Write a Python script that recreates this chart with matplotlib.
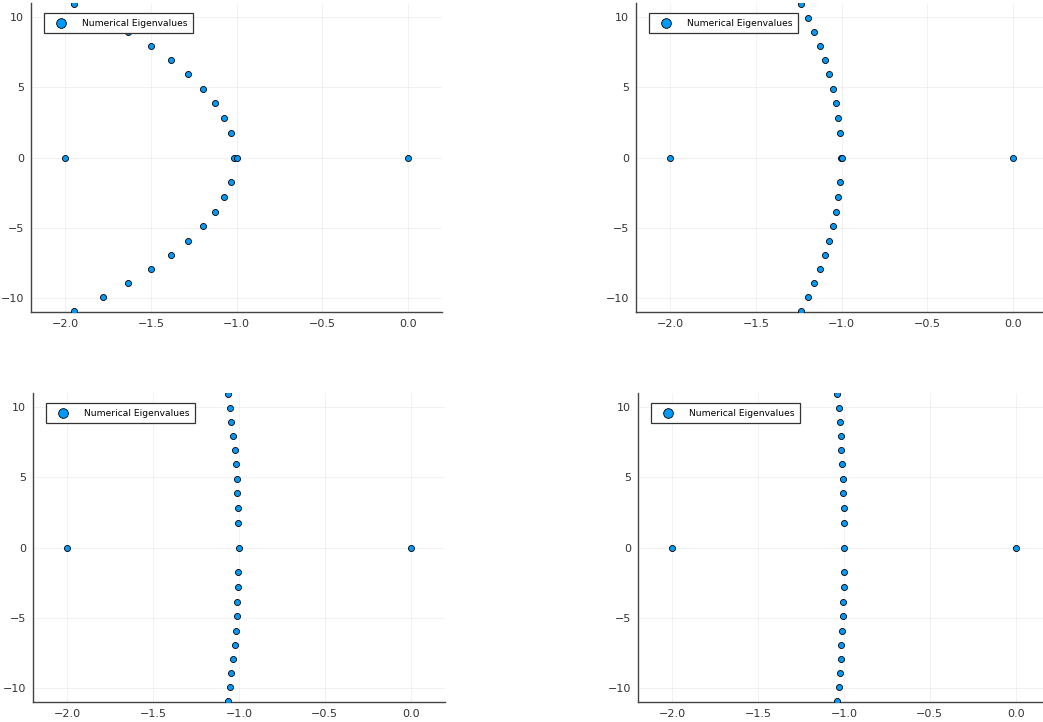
import matplotlib
matplotlib.use("Agg")
import matplotlib.pyplot as plt

# Imaginary parts (upper half; the lower half mirrors these)
imag_upper = [10.93, 9.93, 8.95, 7.94, 6.93, 5.92, 4.91, 3.89, 2.84, 1.73]

# Real parts per panel (matching imag_upper order)
real_p1 = [-1.947, -1.782, -1.636, -1.501, -1.385, -1.281, -1.196, -1.126, -1.071, -1.032]
real_p2 = [-1.237, -1.196, -1.160, -1.126, -1.095, -1.072, -1.049, -1.031, -1.018, -1.008]
real_p3 = [-1.063, -1.053, -1.044, -1.034, -1.026, -1.018, -1.013, -1.009, -1.005, -1.003]
real_p4 = [-1.039, -1.031, -1.025, -1.019, -1.016, -1.012, -1.008, -1.004, -1.002, -1.000]

# Real eigenvalues on the axis for each panel
real_axis_p1 = [-2.0, -1.017, -1.0, 0.0]
real_axis_p2 = [-2.0, -1.004, -1.0, 0.0]
real_axis_p3 = [-2.0, -1.001, 0.0]
real_axis_p4 = [-2.0, -1.0, 0.0]

xticks = [-2.0, -1.5, -1.0, -0.5, 0.0]
xticklabels = ["\u22122.0", "\u22121.5", "\u22121.0", "\u22120.5", "0.0"]
yticks = [-10, -5, 0, 5, 10]
yticklabels = ["\u221210", "\u22125", "0", "5", "10"]
legend_label = "Numerical Eigenvalues"

panels = [
    (real_p1, real_axis_p1),
    (real_p2, real_axis_p2),
    (real_p3, real_axis_p3),
    (real_p4, real_axis_p4),
]

W, H = 1043, 722
fig = plt.figure(figsize=(W / 100, H / 100), dpi=100)

# axes boxes in pixels: (left, top, width, height)
boxes = [
    (31, 3, 411, 309),
    (636, 3, 411, 309),
    (33, 393, 412, 309),
    (638, 393, 412, 309),
]

blue = "#009AFA"
for (reals, axis_vals), (l, t, w, h) in zip(panels, boxes):
    ax = fig.add_axes([l / W, 1 - (t + h) / H, w / W, h / H])
    xs = list(axis_vals) + list(reals) + list(reals)
    ys = [0.0] * len(axis_vals) + list(imag_upper) + [-v for v in imag_upper]
    ax.scatter(xs, ys, s=19, c=blue, edgecolors="black", linewidths=0.6,
               zorder=3, label=legend_label, clip_on=True)
    ax.set_xlim(-2.2, 0.2)
    ax.set_ylim(-11, 11)
    ax.set_xticks(xticks)
    ax.set_xticklabels(xticklabels)
    ax.set_yticks(yticks)
    ax.set_yticklabels(yticklabels)
    ax.grid(True, color="black", alpha=0.06, linewidth=0.6)
    ax.set_axisbelow(True)
    for side in ("top", "right"):
        ax.spines[side].set_visible(False)
    for side in ("left", "bottom"):
        ax.spines[side].set_color("#444444")
        ax.spines[side].set_linewidth(1.0)
    ax.tick_params(axis="both", length=0, labelsize=8, labelcolor="#333333", pad=5)
    leg = ax.legend(loc="upper left", bbox_to_anchor=(13 / w, 1 - 10 / h),
                    borderaxespad=0, fontsize=6.6, fancybox=False, framealpha=1,
                    edgecolor="#333333", markerscale=1.6, handletextpad=1.1,
                    borderpad=0.6, handlelength=2.4)
    leg.get_frame().set_linewidth(0.9)
    leg.set_zorder(10)

fig.savefig("out.png", dpi=100, facecolor="white")
